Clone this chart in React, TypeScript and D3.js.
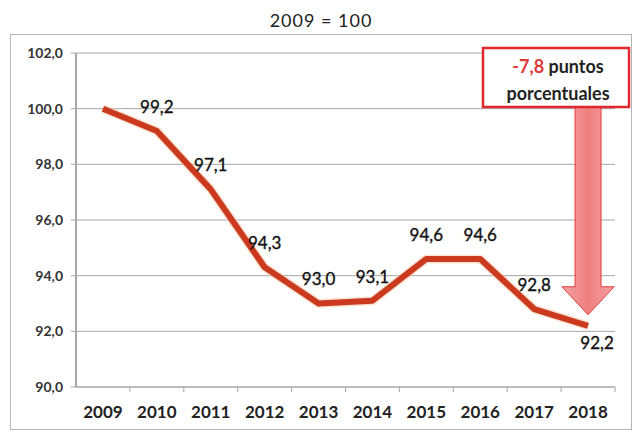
import React from 'react';
import * as d3 from 'd3';

// Índice 2009 = 100
const years = ['2009', '2010', '2011', '2012', '2013', '2014', '2015', '2016', '2017', '2018'];
const values = [100.0, 99.2, 97.1, 94.3, 93.0, 93.1, 94.6, 94.6, 92.8, 92.2];
const yTicks = [90, 92, 94, 96, 98, 100, 102];
const titleText = '2009 = 100';
const noteValue = '-7,8';
const noteLine1 = ' puntos';
const noteLine2 = 'porcentuales';

const W = 635;
const H = 435;
const margin = { top: 53, right: 20, bottom: 48, left: 76 };

const fmt = (v: number) => v.toFixed(1).replace('.', ',');

export default function App() {
  const x = d3.scaleBand<string>()
    .domain(years)
    .range([margin.left, W - margin.right])
    .paddingInner(0)
    .paddingOuter(0);

  const y = d3.scaleLinear()
    .domain([90, 102])
    .range([H - margin.bottom, margin.top]);

  const cx = (yr: string) => (x(yr) ?? 0) + x.bandwidth() / 2;

  const pts = years.map((yr, i) => ({ yr, v: values[i] }));

  const line = d3.line<{ yr: string; v: number }>()
    .x(d => cx(d.yr))
    .y(d => y(d.v));

  const x0 = margin.left;
  const x1 = W - margin.right;
  const yBottom = y(90);

  // Flecha de la anotación
  const lastYr = years[years.length - 1];
  const tipX = cx(lastYr);
  const tipY = y(values[values.length - 1]) - 11;
  const boxBottom = 107;
  const shaftHalf = 13;
  const headHalf = 26;
  const headH = 28;
  const arrow = d3.path();
  arrow.moveTo(tipX - shaftHalf, boxBottom);
  arrow.lineTo(tipX + shaftHalf, boxBottom);
  arrow.lineTo(tipX + shaftHalf, tipY - headH);
  arrow.lineTo(tipX + headHalf, tipY - headH);
  arrow.lineTo(tipX, tipY);
  arrow.lineTo(tipX - headHalf, tipY - headH);
  arrow.lineTo(tipX - shaftHalf, tipY - headH);
  arrow.closePath();

  const font = 'Lato, "Open Sans", sans-serif';

  return (
    <svg width={W} height={H} style={{ position: 'absolute', left: 0, top: 0, background: '#fff' }}>
      <defs>
        <linearGradient id="arrowFill" x1="0" x2="1" y1="0" y2="0">
          <stop offset="0%" stopColor="#f5a3a3" />
          <stop offset="50%" stopColor="#ef7f7f" />
          <stop offset="100%" stopColor="#f5a3a3" />
        </linearGradient>
      </defs>

      {/* Título */}
      <text x={321} y={21} dy="0.35em" textAnchor="middle" fontFamily={font} fontSize={18} letterSpacing={1} fill="#222">
        {titleText}
      </text>

      {/* Marco exterior */}
      <rect x={10.5} y={34.5} width={621} height={395} fill="none" stroke="#b5b5b5" strokeWidth={1} />

      {/* Rejilla y eje Y */}
      {yTicks.map(t => (
        <g key={t}>
          <line x1={x0 - 5} x2={x1} y1={y(t)} y2={y(t)} stroke="#a6a6a6" strokeWidth={1} />
          <text
            x={63}
            y={y(t)}
            dy="0.35em"
            textAnchor="end"
            fontFamily={font}
            fontWeight="bold"
            fontSize={14}
            fill="#333"
          >
            {fmt(t)}
          </text>
        </g>
      ))}
      <line x1={x0} x2={x0} y1={y(102)} y2={yBottom} stroke="#a6a6a6" strokeWidth={2} />

      {/* Eje X */}
      <line x1={x0} x2={x1} y1={yBottom} y2={yBottom} stroke="#a6a6a6" strokeWidth={1} />
      {years.map(yr => (
        <line
          key={'t' + yr}
          x1={(x(yr) ?? 0) + x.bandwidth()}
          x2={(x(yr) ?? 0) + x.bandwidth()}
          y1={yBottom}
          y2={yBottom + 5}
          stroke="#a6a6a6"
        />
      ))}
      {years.map(yr => (
        <text
          key={'l' + yr}
          x={cx(yr)}
          y={412}
          dy="0.35em"
          textAnchor="middle"
          fontFamily={font}
          fontWeight="bold"
          fontSize={17}
          fill="#222"
        >
          {yr}
        </text>
      ))}

      {/* Serie */}
      <path d={line(pts) ?? ''} fill="none" stroke="#f8c8a8" strokeWidth={9} strokeOpacity={0.5} strokeLinejoin="round" />
      <path d={line(pts) ?? ''} fill="none" stroke="#cb3a1e" strokeWidth={6} strokeLinejoin="round" />

      {/* Etiquetas de datos */}
      {pts.map((p, i) => {
        if (i === 0) return null;
        const last = i === pts.length - 1;
        return (
          <text
            key={'d' + p.yr}
            x={cx(p.yr) + (last ? 9 : 0)}
            y={y(p.v) + (last ? 17 : -24)}
            dy="0.35em"
            textAnchor="middle"
            fontFamily={font}
            fontSize={17}
            fill="#111"
            stroke="#111"
            strokeWidth={0.35}
          >
            {fmt(p.v)}
          </text>
        );
      })}

      {/* Anotación */}
      <path d={arrow.toString()} fill="url(#arrowFill)" stroke="#e23b3b" strokeWidth={1} />
      <rect x={483} y={48} width={146} height={59} fill="#fff" stroke="#e0282d" strokeWidth={2.5} />
      <text x={558} y={67} dy="0.35em" textAnchor="middle" fontFamily={font} fontWeight="bold" fontSize={18} fill="#222">
        <tspan fill="#e0393c">{noteValue}</tspan>
        {noteLine1}
      </text>
      <text x={558} y={94} dy="0.35em" textAnchor="middle" fontFamily={font} fontWeight="bold" fontSize={18} fill="#222">
        {noteLine2}
      </text>
    </svg>
  );
}
